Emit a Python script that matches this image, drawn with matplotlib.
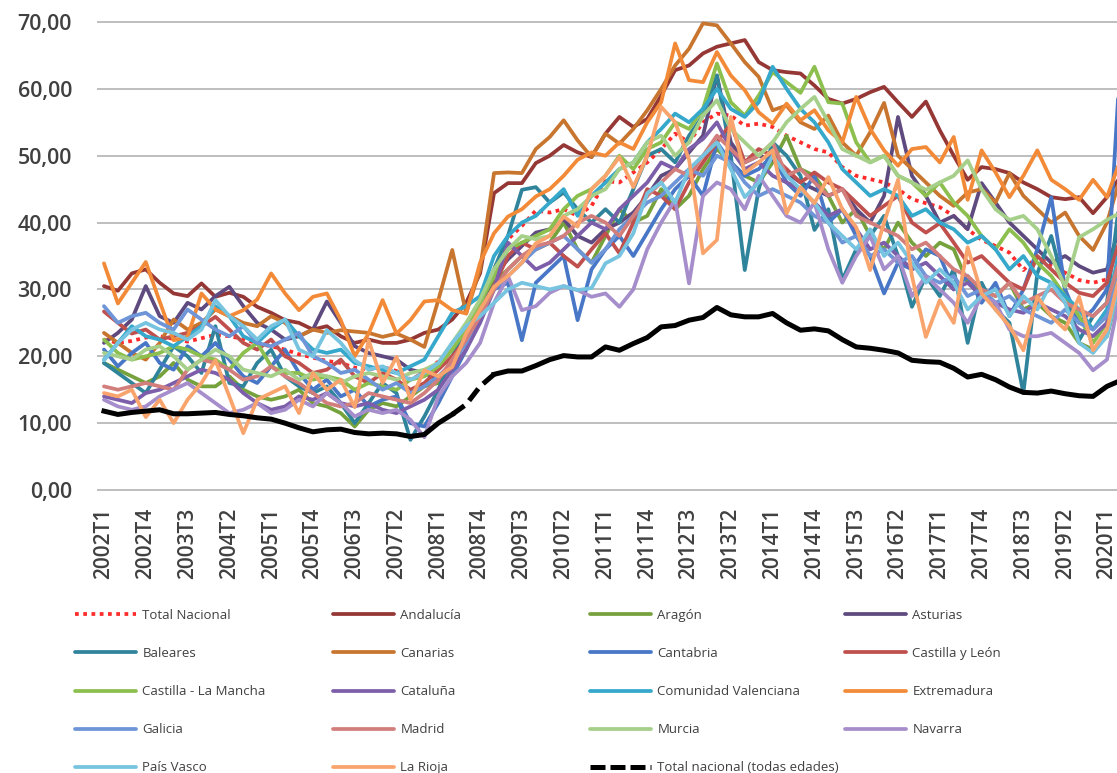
import matplotlib
matplotlib.use("Agg")
import matplotlib.pyplot as plt
from matplotlib.lines import Line2D
from matplotlib.ticker import FuncFormatter

plt.rcParams["font.family"] = ["Open Sans", "DejaVu Sans"]

# Quarterly categories 2002T1 .. 2020T2
quarters = [f"{y}T{q}" for y in range(2002, 2021) for q in range(1, 5)][:74]

total_nacional = [
    22.5, 22.0, 22.3, 22.8, 23.0, 22.6, 22.2, 22.7, 23.2, 23.0, 22.6, 21.9,
    21.5, 21.0, 20.3, 19.8, 19.3, 19.0, 18.3, 18.0, 18.4, 17.8, 16.5, 17.6,
    19.2, 21.0, 23.5, 27.5, 33.0, 37.5, 39.5, 41.8, 41.5, 42.0, 41.0, 42.5,
    46.2, 46.0, 47.5, 49.0, 51.0, 53.3, 52.0, 55.0, 56.3, 56.0, 54.5, 54.8,
    54.3, 53.0, 52.0, 51.0, 50.5, 48.3, 47.0, 46.5, 46.0, 45.0, 43.5, 42.9,
    42.3, 41.0, 39.0, 37.4, 36.5, 35.5, 32.9, 34.9, 33.5, 32.5, 31.4, 31.0,
    31.5, 38.0]
andalucia = [
    30.5, 29.8, 32.4, 33.0, 31.0, 29.4, 29.0, 30.9, 28.9, 29.5, 28.9, 27.4,
    26.5, 25.4, 25.0, 24.0, 24.5, 23.0, 22.0, 22.5, 22.0, 22.0, 22.5, 23.5,
    24.0, 25.5, 28.0, 32.4, 44.4, 45.9, 45.9, 48.9, 50.0, 51.6, 50.5, 49.8,
    53.3, 55.8, 54.3, 55.5, 59.0, 62.8, 63.5, 65.3, 66.3, 66.8, 67.3, 64.0,
    62.8, 62.5, 62.3, 60.5, 58.5, 57.8, 58.5, 59.5, 60.3, 58.0, 55.8, 58.1,
    53.8, 50.0, 46.4, 48.3, 48.0, 47.4, 46.0, 45.0, 43.8, 43.5, 43.8, 41.4,
    43.8, 47.0]
aragon = [
    19.0, 18.0, 17.0, 16.0, 17.0, 19.0, 16.5, 15.5, 15.5, 17.0, 15.0, 14.0,
    13.5, 14.0, 15.0, 13.0, 12.5, 11.5, 9.5, 12.0, 13.0, 12.5, 14.0, 15.5,
    16.0, 19.5, 23.0, 28.0, 31.0, 33.0, 35.0, 36.0, 37.0, 40.0, 36.0, 34.0,
    38.0, 42.0, 40.0, 41.0, 45.0, 42.0, 44.0, 48.0, 51.0, 49.0, 47.0, 46.0,
    49.0, 53.0, 48.0, 47.0, 44.0, 40.0, 42.0, 38.0, 36.0, 40.0, 37.0, 35.0,
    37.0, 36.0, 31.0, 30.0, 29.0, 31.0, 27.0, 28.0, 26.0, 25.0, 22.0, 21.0,
    23.0, 31.0]
asturias = [
    22.0, 23.5, 25.5, 30.5, 26.0, 25.0, 28.0, 27.0, 29.0, 30.4, 27.5, 25.0,
    24.0, 22.5, 23.0, 24.0, 28.2, 25.0, 21.5, 20.5, 20.0, 19.5, 18.0, 17.5,
    16.5, 18.5, 22.5, 27.5, 32.0, 34.5, 36.5, 38.5, 39.0, 40.5, 38.0, 37.0,
    39.0, 40.0, 41.5, 44.0, 47.0, 48.0, 50.5, 53.0, 62.0, 52.0, 49.0, 50.0,
    49.5, 47.5, 46.0, 45.0, 44.0, 45.0, 42.0, 40.0, 44.0, 55.8, 47.0, 44.0,
    40.0, 41.0, 39.0, 45.9, 43.0, 40.0, 38.0, 36.0, 34.0, 35.0, 33.5, 32.5,
    33.0, 40.0]
baleares = [
    19.0, 17.5, 16.0, 14.5, 18.0, 21.5, 20.0, 17.5, 24.5, 16.0, 15.5, 19.0,
    21.0, 17.0, 15.5, 14.5, 15.5, 13.0, 10.0, 13.0, 16.0, 14.5, 7.5, 11.0,
    15.0, 20.0, 24.0, 27.5, 33.0, 38.0, 44.9, 45.3, 43.0, 44.5, 42.0, 40.0,
    42.0, 40.0, 45.0, 50.0, 51.0, 49.0, 53.0, 56.0, 62.0, 50.0, 32.9, 45.0,
    52.0, 50.0, 47.0, 38.9, 42.0, 31.4, 36.0, 38.0, 41.0, 35.0, 27.4, 32.0,
    29.0, 33.0, 22.0, 31.0, 27.0, 25.0, 14.5, 32.4, 38.0, 30.0, 22.4, 26.0,
    28.0, 45.0]
canarias = [
    23.5, 22.0, 20.5, 19.5, 22.0, 25.5, 24.0, 25.0, 27.0, 26.0, 25.0, 24.5,
    26.0, 25.0, 23.0, 24.0, 23.5, 23.9, 23.7, 23.5, 22.9, 23.4, 22.5, 21.4,
    28.4, 35.9, 26.4, 33.0, 47.4, 47.5, 47.4, 51.0, 52.8, 55.3, 52.3, 49.8,
    53.3, 51.8, 54.0, 56.8, 60.0, 63.5, 66.0, 69.8, 69.5, 66.8, 64.0, 61.8,
    56.8, 57.5, 55.0, 54.0, 56.0, 52.0, 50.0, 53.5, 57.9, 50.0, 48.0, 46.0,
    44.0, 42.5, 44.5, 45.0, 43.0, 47.4, 44.0, 42.0, 40.0, 41.5, 38.0, 35.9,
    40.0, 47.0]
cantabria = [
    21.0, 18.5, 20.5, 22.0, 19.0, 18.0, 21.5, 20.0, 22.0, 19.5, 17.0, 16.0,
    18.5, 21.0, 17.5, 15.0, 16.5, 14.0, 15.0, 12.5, 13.5, 14.0, 10.0, 9.5,
    13.0, 17.0, 21.0, 26.0, 30.0, 31.0, 22.4, 31.0, 33.0, 35.0, 25.4, 33.0,
    36.0, 38.0, 35.0, 38.5, 42.0, 45.0, 47.0, 44.0, 52.0, 49.0, 47.0, 48.0,
    50.0, 46.0, 44.0, 47.0, 40.0, 42.0, 38.0, 35.0, 29.4, 34.0, 33.0, 36.0,
    35.0, 30.0, 32.0, 28.0, 31.0, 26.0, 30.0, 36.0, 43.8, 30.0, 25.0, 27.0,
    30.0, 66.0]
castilla_leon = [
    26.7, 25.0, 23.4, 24.0, 22.5, 23.0, 23.5, 24.5, 25.9, 24.0, 22.0, 21.0,
    22.5, 20.0, 19.0, 17.5, 18.0, 19.5, 17.0, 16.0, 17.5, 16.5, 15.0, 16.0,
    18.0, 20.0, 22.5, 26.0, 30.5, 35.0, 37.0, 36.0, 37.0, 35.0, 33.4, 36.0,
    38.4, 35.4, 40.0, 45.0, 44.0, 42.0, 46.0, 49.0, 52.0, 54.8, 49.0, 51.0,
    50.0, 48.0, 46.0, 47.5, 46.0, 45.0, 43.0, 41.0, 42.5, 44.0, 40.0, 38.5,
    39.9, 37.0, 34.0, 35.0, 33.0, 31.0, 30.0, 35.0, 33.0, 31.0, 29.5, 29.0,
    31.0, 38.0]
castilla_mancha = [
    22.5, 20.5, 19.5, 20.0, 20.5, 21.5, 21.0, 20.0, 19.5, 18.0, 20.5, 22.0,
    18.5, 17.5, 17.5, 16.5, 17.0, 16.5, 15.0, 16.0, 15.5, 15.0, 16.5, 17.0,
    18.5, 21.0, 24.0, 28.0, 32.0, 36.0, 37.0, 38.0, 39.0, 42.0, 44.0, 45.0,
    47.0, 50.0, 48.0, 51.0, 52.0, 55.0, 54.0, 57.0, 63.8, 58.0, 56.0, 59.0,
    62.5, 61.0, 59.4, 63.3, 58.0, 57.8, 52.0, 49.0, 50.0, 47.0, 46.0, 44.0,
    46.0, 43.0, 41.0, 38.0, 36.0, 39.0, 37.0, 34.0, 32.0, 29.0, 26.0, 22.0,
    25.0, 34.0]
cataluna = [
    14.0, 13.5, 13.0, 14.5, 15.0, 16.0, 17.0, 18.0, 17.5, 16.5, 14.5, 13.0,
    12.0, 12.5, 14.0, 13.5, 14.5, 13.0, 12.5, 13.0, 12.0, 11.5, 12.5, 13.5,
    15.0, 18.0, 21.0, 25.0, 30.0, 37.0, 35.0, 33.0, 34.0, 36.0, 38.0, 40.0,
    39.0, 42.0, 44.0, 46.0, 49.0, 48.0, 51.0, 52.5, 55.0, 51.0, 48.0, 49.0,
    47.0, 46.0, 45.0, 43.0, 41.0, 42.0, 39.0, 36.0, 37.0, 35.0, 33.0, 34.0,
    32.0, 30.0, 31.0, 29.0, 28.0, 27.0, 26.5, 28.0, 27.0, 26.0, 24.0, 23.0,
    25.0, 33.0]
valenciana = [
    19.5, 22.0, 24.5, 23.0, 22.5, 21.5, 23.0, 24.5, 27.5, 26.0, 23.0, 22.0,
    24.0, 25.5, 23.0, 21.0, 20.5, 21.0, 19.0, 18.5, 18.0, 17.5, 18.5, 19.5,
    23.0, 26.5, 27.5, 29.0, 35.0, 38.0, 40.0, 41.0, 43.0, 45.0, 41.0, 44.0,
    46.0, 48.0, 49.0, 52.0, 54.0, 56.3, 55.0, 57.0, 60.0, 57.0, 55.8, 58.0,
    63.3, 60.0, 57.0, 55.0, 52.0, 48.0, 46.0, 44.0, 45.0, 44.0, 41.0, 42.0,
    40.0, 39.0, 37.0, 38.0, 36.0, 33.0, 35.0, 32.0, 31.0, 29.0, 27.0, 24.0,
    27.0, 37.0]
extremadura = [
    33.9, 27.9, 31.0, 34.1, 28.2, 22.4, 22.9, 29.4, 27.0, 26.0, 26.9, 28.5,
    32.4, 29.4, 26.9, 28.9, 29.4, 25.4, 20.0, 23.4, 28.4, 23.4, 25.4, 28.2,
    28.4, 26.9, 26.4, 34.0, 38.4, 40.9, 42.0, 43.9, 45.0, 47.0, 49.4, 50.5,
    50.0, 52.0, 51.0, 55.0, 58.0, 66.8, 61.3, 61.0, 65.5, 62.0, 59.8, 56.5,
    54.8, 57.8, 55.3, 56.8, 53.8, 52.0, 58.8, 54.0, 50.8, 48.5, 51.0, 51.3,
    49.0, 52.8, 43.4, 50.8, 47.5, 43.8, 47.0, 50.8, 46.4, 45.0, 43.4, 46.4,
    43.8, 49.6]
galicia = [
    27.5, 25.0, 26.0, 26.5, 25.0, 24.0, 27.0, 25.5, 24.0, 23.0, 24.5, 22.0,
    21.5, 22.5, 23.5, 20.0, 19.0, 17.5, 18.0, 16.5, 15.0, 16.0, 14.5, 15.5,
    17.0, 19.0, 22.0, 26.5, 30.0, 32.0, 34.0, 36.0, 37.0, 38.0, 36.0, 34.0,
    36.0, 39.0, 41.0, 43.0, 44.0, 46.0, 48.0, 47.0, 50.0, 49.0, 46.0, 44.0,
    45.0, 44.0, 43.0, 41.0, 40.0, 37.0, 38.0, 35.0, 36.0, 34.0, 35.0, 32.0,
    31.0, 32.0, 29.0, 30.0, 28.0, 29.0, 27.0, 26.0, 25.0, 27.0, 25.0, 24.0,
    26.0, 33.0]
madrid = [
    15.5, 15.0, 15.5, 16.0, 15.5, 15.0, 18.0, 19.5, 19.0, 18.0, 16.5, 17.0,
    18.5, 17.0, 16.0, 14.5, 13.0, 12.5, 13.0, 14.5, 14.0, 13.5, 13.0, 14.5,
    16.5, 19.5, 22.5, 26.0, 30.0, 33.0, 35.0, 36.5, 37.0, 38.0, 40.0, 41.0,
    40.0, 38.0, 41.0, 44.0, 46.0, 48.0, 47.0, 50.0, 53.0, 51.0, 49.0, 50.0,
    52.0, 47.0, 48.0, 46.0, 44.0, 45.0, 41.0, 40.0, 39.0, 38.0, 36.0, 37.0,
    35.0, 33.0, 32.0, 30.0, 29.0, 31.0, 28.0, 29.0, 30.0, 28.0, 27.0, 26.0,
    28.0, 35.0]
murcia = [
    20.5, 20.0, 19.5, 21.0, 21.5, 20.0, 18.0, 19.5, 21.0, 20.0, 18.0, 17.5,
    17.0, 18.0, 16.5, 17.5, 17.0, 16.0, 17.0, 17.5, 17.0, 16.5, 17.5, 18.0,
    19.0, 22.0, 25.0, 28.5, 33.0, 36.0, 38.0, 37.5, 38.0, 41.0, 42.0, 44.0,
    45.0, 48.0, 49.0, 52.0, 53.0, 50.0, 52.0, 56.0, 58.3, 54.0, 52.0, 50.0,
    52.0, 55.0, 57.0, 58.8, 55.0, 51.0, 50.0, 49.0, 50.0, 47.0, 46.0, 44.9,
    46.0, 47.0, 49.3, 45.0, 42.0, 40.4, 41.0, 39.0, 35.0, 30.4, 37.8, 39.0,
    40.4, 41.5]
navarra = [
    13.5, 12.5, 12.0, 12.5, 14.0, 15.0, 16.0, 14.5, 13.0, 11.5, 12.0, 13.0,
    11.5, 12.0, 13.5, 12.5, 14.5, 13.0, 11.0, 12.0, 11.5, 12.0, 10.5, 7.9,
    14.0, 17.0, 19.0, 22.0, 28.0, 32.0, 26.9, 27.5, 29.5, 30.5, 29.9, 28.9,
    29.4, 27.4, 30.0, 36.0, 40.0, 43.4, 30.9, 44.0, 46.0, 45.0, 42.0, 47.0,
    44.0, 41.0, 40.0, 43.0, 36.0, 31.0, 35.0, 38.0, 33.0, 35.0, 29.0, 32.0,
    30.0, 28.0, 25.0, 29.0, 28.0, 24.0, 23.0, 23.0, 23.5, 22.0, 20.5, 17.9,
    19.5, 30.0]
pais_vasco = [
    19.4, 22.0, 24.0, 25.0, 24.0, 23.5, 22.5, 24.0, 28.4, 26.0, 24.5, 22.5,
    24.5, 25.5, 21.0, 20.0, 23.9, 22.0, 19.4, 18.0, 18.5, 17.5, 16.5, 17.5,
    19.0, 22.0, 24.5, 26.0, 28.0, 30.0, 31.0, 30.5, 30.0, 30.5, 29.9, 30.2,
    33.9, 35.0, 38.4, 44.4, 46.0, 43.0, 48.0, 50.0, 52.0, 48.0, 43.8, 46.0,
    50.0, 47.0, 45.0, 43.0, 40.0, 38.0, 36.0, 39.0, 35.0, 37.0, 34.0, 31.0,
    33.0, 31.0, 27.0, 29.0, 30.0, 26.0, 29.0, 27.0, 31.0, 28.0, 22.0, 20.5,
    23.0, 32.0]
la_rioja = [
    14.5, 14.0, 15.0, 10.9, 13.5, 10.0, 13.5, 16.0, 19.4, 14.0, 8.5, 13.5,
    14.5, 15.5, 11.5, 17.5, 15.0, 16.5, 12.4, 22.4, 16.0, 19.9, 13.5, 17.9,
    17.0, 18.4, 23.4, 27.0, 30.4, 32.0, 34.0, 36.9, 38.0, 40.9, 39.4, 45.0,
    47.0, 49.8, 45.3, 50.0, 57.3, 55.0, 49.4, 35.4, 37.4, 55.8, 47.4, 49.0,
    50.8, 41.4, 45.3, 42.9, 46.8, 42.0, 39.3, 32.9, 40.0, 46.4, 32.0, 22.9,
    28.4, 25.0, 36.3, 29.4, 27.0, 24.5, 20.9, 28.9, 26.0, 24.0, 28.9, 20.9,
    24.0, 33.0]
total_todas_edades = [
    11.8, 11.3, 11.6, 11.8, 12.0, 11.4, 11.4, 11.5, 11.6, 11.3, 11.1, 10.8,
    10.6, 10.0, 9.3, 8.7, 9.0, 9.1, 8.6, 8.4, 8.5, 8.4, 8.0, 8.3,
    10.0, 11.3, 12.8, 15.5, 17.3, 17.8, 17.8, 18.6, 19.5, 20.1, 19.9, 19.9,
    21.4, 20.9, 21.9, 22.8, 24.4, 24.6, 25.4, 25.8, 27.3, 26.2, 25.9, 25.9,
    26.4, 25.0, 23.9, 24.1, 23.8, 22.5, 21.4, 21.2, 20.9, 20.5, 19.4, 19.2,
    19.1, 18.2, 16.9, 17.3, 16.5, 15.4, 14.6, 14.5, 14.8, 14.4, 14.1, 14.0,
    15.5, 16.4]

regions = [
    ("Andalucía", andalucia, "#953735"),
    ("Aragón", aragon, "#76A23E"),
    ("Asturias", asturias, "#5F4A80"),
    ("Baleares", baleares, "#2F849C"),
    ("Canarias", canarias, "#C8762F"),
    ("Cantabria", cantabria, "#4777C6"),
    ("Castilla y León", castilla_leon, "#C0504D"),
    ("Castilla - La Mancha", castilla_mancha, "#8CBF4E"),
    ("Cataluña", cataluna, "#7D5EAA"),
    ("Comunidad Valenciana", valenciana, "#35A8CB"),
    ("Extremadura", extremadura, "#F28A38"),
    ("Galicia", galicia, "#6E95D8"),
    ("Madrid", madrid, "#D27E7C"),
    ("Murcia", murcia, "#A6D08A"),
    ("Navarra", navarra, "#A58ECB"),
    ("País Vasco", pais_vasco, "#77C4E0"),
    ("La Rioja", la_rioja, "#F9A46C"),
]

W, H = 1117, 773
fig = plt.figure(figsize=(W / 100, H / 100), dpi=100)
ax = fig.add_axes([97 / W, 1 - 492 / H, (W - 97) / W, 472 / H])

xs = list(range(len(quarters)))
LW = 2.7
TEXT = "#404040"

handles = {}
(h,) = ax.plot(xs, total_nacional, color="#FF2A2A", lw=LW,
               linestyle=(0, (1, 1.2)), zorder=2)
handles["Total Nacional"] = h
for name, vals, col in regions:
    (h,) = ax.plot(xs, vals, color=col, lw=LW, solid_joinstyle="round",
                   solid_capstyle="round", zorder=3)
    handles[name] = h

# all-ages national series, with its dashed stretch in 2008
blk = dict(color="black", lw=3.6, zorder=4, solid_joinstyle="round")
ax.plot(xs[:26], total_todas_edades[:26], **blk)
ax.plot(xs[25:29], total_todas_edades[25:29], linestyle=(0, (3, 1.4)), **blk)
ax.plot(xs[28:], total_todas_edades[28:], **blk)
handles["Total nacional (todas edades)"] = Line2D(
    [], [], color="black", lw=3.6, linestyle=(0, (3, 1.0)))

ax.set_xlim(-0.5, 72.72)
ax.set_ylim(-0.3, 70.3)
ax.set_yticks(range(0, 71, 10))
ax.yaxis.set_major_formatter(FuncFormatter(lambda v, p: f"{v:.2f}".replace(".", ",")))
tick_idx = list(range(0, 73, 3))
ax.set_xticks(tick_idx)
ax.set_xticklabels([quarters[i] for i in tick_idx], rotation=90)
ax.tick_params(axis="x", length=0, pad=11, labelsize=15, labelcolor=TEXT)
ax.tick_params(axis="y", length=0, pad=18, labelsize=15.5, labelcolor=TEXT)
for lab in ax.get_xticklabels() + ax.get_yticklabels():
    lab.set_fontweight("semibold")

ax.yaxis.grid(True, color="#BEBEBE", lw=1.4)
ax.set_axisbelow(True)
for sp in ax.spines.values():
    sp.set_visible(False)

columns = [
    ["Total Nacional", "Baleares", "Castilla - La Mancha", "Galicia", "País Vasco"],
    ["Andalucía", "Canarias", "Cataluña", "Madrid", "La Rioja"],
    ["Aragón", "Cantabria", "Comunidad Valenciana", "Murcia",
     "Total nacional (todas edades)"],
    ["Asturias", "Castilla y León", "Extremadura", "Navarra"],
]
col_x = [75, 333, 590, 845]
for names, cx in zip(columns, col_x):
    leg = fig.legend([handles[n] for n in names], names, loc="upper left",
                     bbox_to_anchor=(cx / W, 1 - 609 / H), frameon=False,
                     fontsize=9.5, handlelength=4.6, handletextpad=0.5,
                     labelspacing=1.9, borderpad=0, borderaxespad=0)
    for t in leg.get_texts():
        t.set_color(TEXT)

fig.savefig("out.png", dpi=100, facecolor="white")
